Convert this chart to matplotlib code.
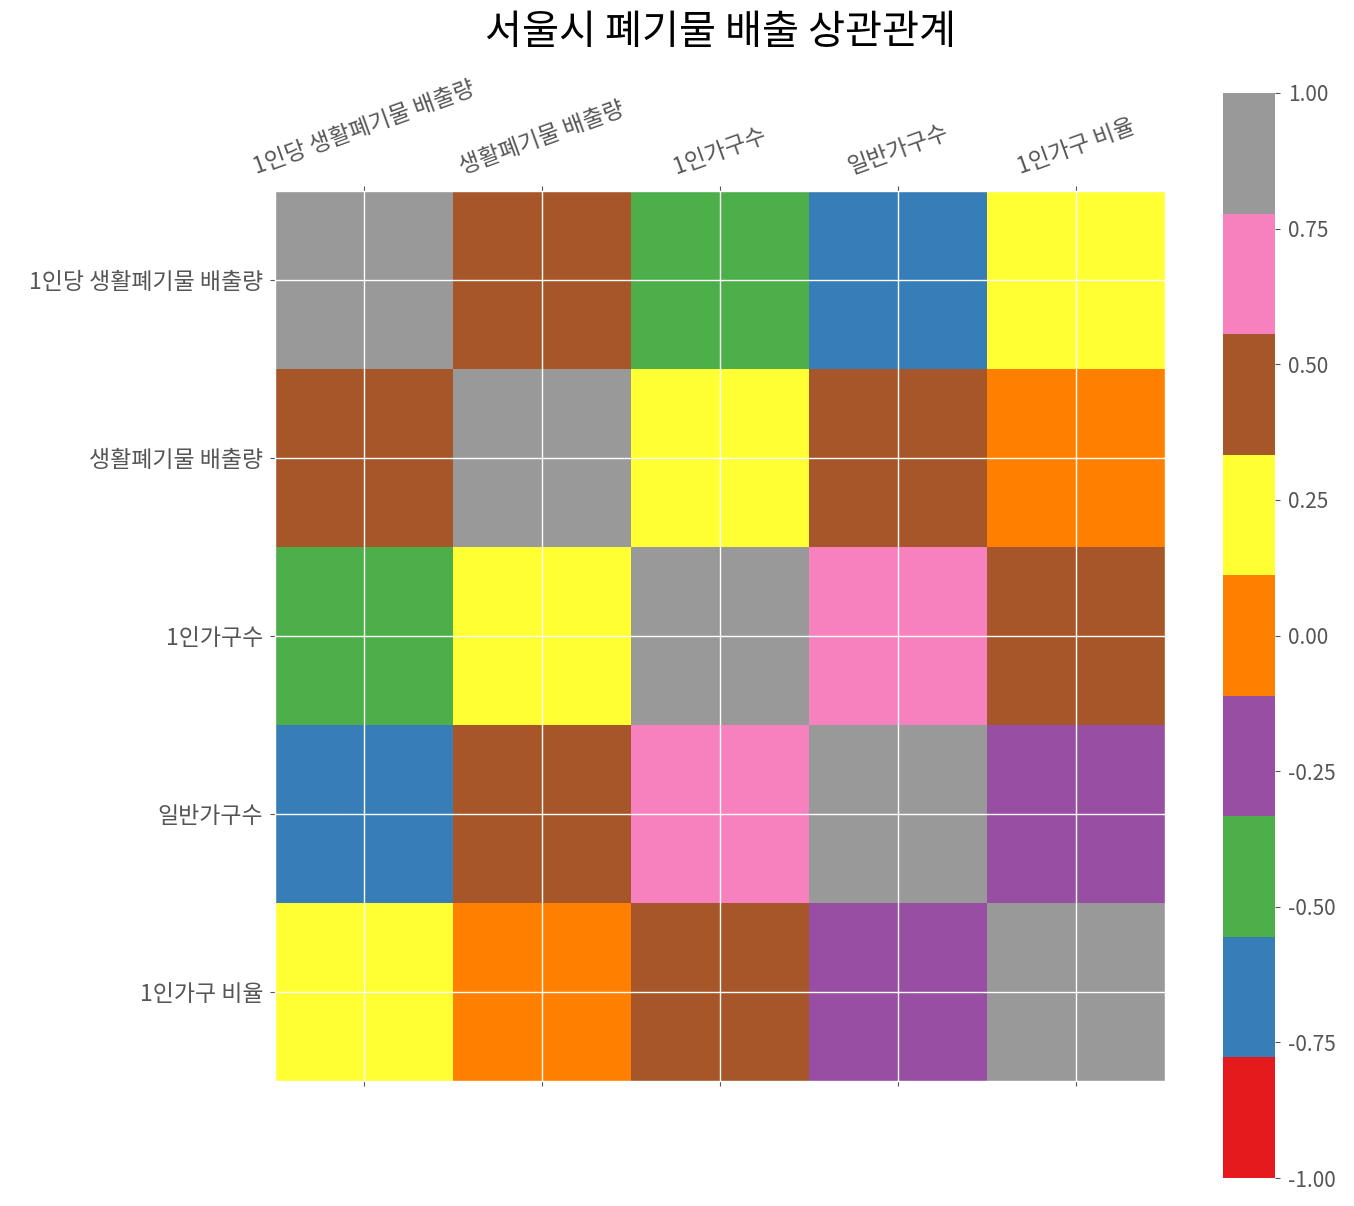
import numpy as np
import matplotlib
matplotlib.use('Agg')
import matplotlib.pyplot as plt

plt.style.use('ggplot')
plt.rcParams['font.family'] = ['Noto Sans CJK KR', 'DejaVu Sans']
plt.rcParams['axes.unicode_minus'] = False

# 상관계수
labels = ['1인당 생활폐기물 배출량', '생활폐기물 배출량', '1인가구수', '일반가구수', '1인가구 비율']
corr = np.array([
    [1.00, 0.45, -0.45, -0.67, 0.22],
    [0.45, 1.00, 0.22, 0.45, 0.00],
    [-0.45, 0.22, 1.00, 0.67, 0.45],
    [-0.67, 0.45, 0.67, 1.00, -0.22],
    [0.22, 0.00, 0.45, -0.22, 1.00],
])
cbar_ticks = [-1.0, -0.75, -0.5, -0.25, 0.0, 0.25, 0.5, 0.75, 1.0]

fig = plt.figure(figsize=(13.54, 12.06), dpi=100)
fig.patch.set_facecolor('white')
ax = fig.add_axes([0.2031, 0.1036, 0.6573, 0.7388])
cax = fig.add_axes([0.9033, 0.0232, 0.0384, 0.8997])

im = ax.matshow(corr, cmap='Set1', vmin=-1, vmax=1)
ax.set_xticks(range(len(labels)))
ax.set_yticks(range(len(labels)))
ax.set_xticklabels(labels, rotation=20, fontsize=16.5)
ax.set_yticklabels(labels, fontsize=16.5)
ax.tick_params(colors='#555555', labelcolor='#555555', pad=5)
ax.grid(True, color='white', linewidth=1)

cb = fig.colorbar(im, cax=cax, ticks=cbar_ticks)
cb.ax.tick_params(labelsize=15, colors='#555555', pad=6)
cb.outline.set_visible(False)

fig.text(0.532, 0.973, '서울시 폐기물 배출 상관관계', ha='center', va='center', fontsize=29)

fig.savefig('out.png', dpi=100)
